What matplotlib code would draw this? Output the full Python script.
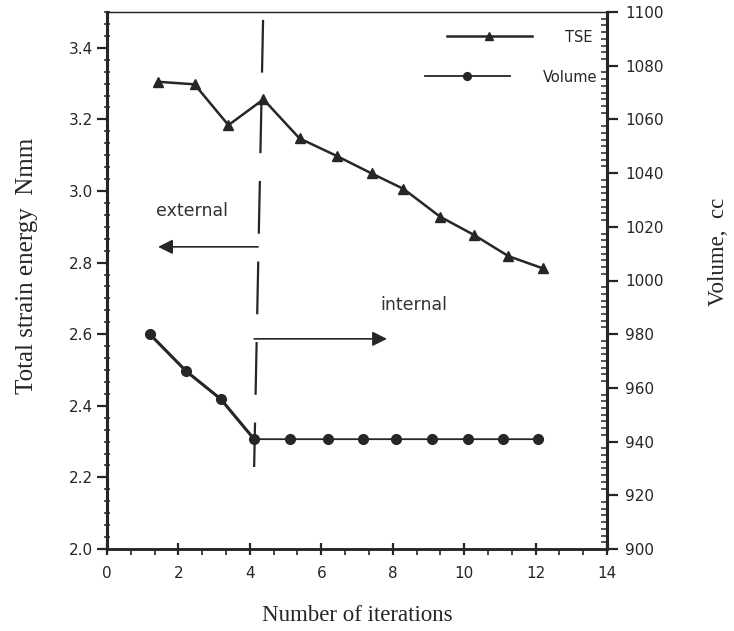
import matplotlib
matplotlib.use("Agg")
import matplotlib.pyplot as plt
from matplotlib.ticker import MultipleLocator, FixedLocator
import numpy as np

# ---- data ----
tse_x = [1.44, 2.45, 3.40, 4.38, 5.39, 6.43, 7.41, 8.30, 9.33, 10.28, 11.24, 12.20]
tse_y = [3.305, 3.298, 3.184, 3.256, 3.147, 3.098, 3.049, 3.006, 2.928, 2.877, 2.818, 2.784]
vol_x = [1.20, 2.21, 3.18, 4.12, 5.13, 6.18, 7.16, 8.10, 9.11, 10.10, 11.10, 12.08]
vol_y = [980.0, 966.3, 955.9, 940.9, 940.9, 940.9, 940.9, 940.9, 940.9, 940.9, 940.9, 940.9]
split_x = [4.37, 4.12]
split_y = [3.478, 2.229]
ext_arrow = dict(x0=4.23, x1=1.43, y=2.844)
int_arrow = dict(x0=4.12, x1=7.84, y=2.587)
x_ticks = [0, 2, 4, 6, 8, 10, 12, 14]
left_ticks = [2.0, 2.2, 2.4, 2.6, 2.8, 3.0, 3.2, 3.4]
right_ticks = [900, 920, 940, 960, 980, 1000, 1020, 1040, 1060, 1080, 1100]

ink = "#262626"
plt.rcParams['lines.scale_dashes'] = False

fig = plt.figure(figsize=(7.34, 6.31), dpi=100)
ax = fig.add_axes([107/734, 1-549/631, 500/734, 537/631])
ax2 = ax.twinx()

ax.set_xlim(0, 14)
ax.set_ylim(2.0, 3.5)
ax2.set_ylim(900, 1100)

l1, = ax.plot(tse_x, tse_y, color=ink, lw=1.8, marker='^', ms=7, label='TSE')
l2, = ax2.plot(vol_x, vol_y, color=ink, lw=1.3, marker='o', ms=7, label='Volume')
ax2.plot(vol_x[:4], vol_y[:4], color=ink, lw=2.2)

# dashed split line
ax.plot(split_x, split_y, color=ink, lw=1.6, dashes=(38, 20))

# arrows
ax.annotate('', xy=(ext_arrow['x1'], ext_arrow['y']), xytext=(ext_arrow['x0'], ext_arrow['y']),
            arrowprops=dict(arrowstyle='-|>', color=ink, lw=1.2, mutation_scale=22,
                            shrinkA=0, shrinkB=0))
ax.annotate('', xy=(int_arrow['x1'], int_arrow['y']), xytext=(int_arrow['x0'], int_arrow['y']),
            arrowprops=dict(arrowstyle='-|>', color=ink, lw=1.2, mutation_scale=22,
                            shrinkA=0, shrinkB=0))
ax.text(2.38, 2.944, 'external', fontsize=12.5, color='#333333', ha='center', va='center')
ax.text(8.6, 2.682, 'internal', fontsize=12.5, color='#333333', ha='center', va='center')

# ticks
ax.xaxis.set_major_locator(FixedLocator(x_ticks))
ax.xaxis.set_minor_locator(MultipleLocator(2/3))
ax.yaxis.set_major_locator(FixedLocator(left_ticks))
ax.yaxis.set_minor_locator(MultipleLocator(0.2/6))
ax2.yaxis.set_major_locator(FixedLocator(right_ticks))
ax2.yaxis.set_minor_locator(MultipleLocator(2.5))
ax.set_xticklabels([str(t) for t in x_ticks])
ax.set_yticklabels([f"{t:.1f}" for t in left_ticks])
ax2.set_yticklabels([str(t) for t in right_ticks])

ax.tick_params(axis='x', which='major', direction='inout', length=9, width=1.6,
               labelsize=11, pad=8, colors=ink)
ax.tick_params(axis='x', which='minor', direction='out', length=4, width=1.2, colors=ink)
ax.tick_params(axis='y', which='major', direction='out', length=7, width=1.6,
               labelsize=11, pad=3, colors=ink)
ax.tick_params(axis='y', which='minor', direction='inout', length=4, width=1.1, colors=ink)
ax2.tick_params(axis='y', which='major', direction='out', length=8, width=1.6,
                labelsize=11, pad=5, colors=ink)
ax2.tick_params(axis='y', which='minor', direction='in', length=4, width=1.1, colors=ink)

for a in (ax, ax2):
    for s in a.spines.values():
        s.set_color(ink)
    a.spines['left'].set_linewidth(2.2)
    a.spines['right'].set_linewidth(2.2)
    a.spines['bottom'].set_linewidth(1.8)
    a.spines['top'].set_linewidth(0.9)

serif = ['Liberation Serif', 'DejaVu Serif']
ax.set_xlabel('Number of iterations', fontsize=16.5, family=serif, color=ink, labelpad=17)
ax.set_ylabel('Total strain energy  Nmm', fontsize=18, family=serif, color=ink)
ax.yaxis.set_label_coords(-0.138, 0.527)
ax2.set_ylabel('Volume,  cc', fontsize=16.5, family=serif, color=ink)
ax2.yaxis.set_label_coords(1.202, 0.553)

leg1 = ax2.legend(handles=[l1], loc='center left', bbox_to_anchor=(0.68, (549-37)/537),
                  frameon=False, handlelength=5.8, handletextpad=2.3,
                  fontsize=10.5, borderpad=0, borderaxespad=0, markerscale=0.8)
ax2.add_artist(leg1)
leg2 = ax2.legend(handles=[l2], loc='center left', bbox_to_anchor=(0.636, (549-77)/537),
                  frameon=False, handlelength=5.8, handletextpad=2.3,
                  fontsize=10.5, borderpad=0, borderaxespad=0, markerscale=0.8)
for lg in (leg1, leg2):
    for t in lg.get_texts():
        t.set_color(ink)

fig.savefig('out.png', dpi=100)
